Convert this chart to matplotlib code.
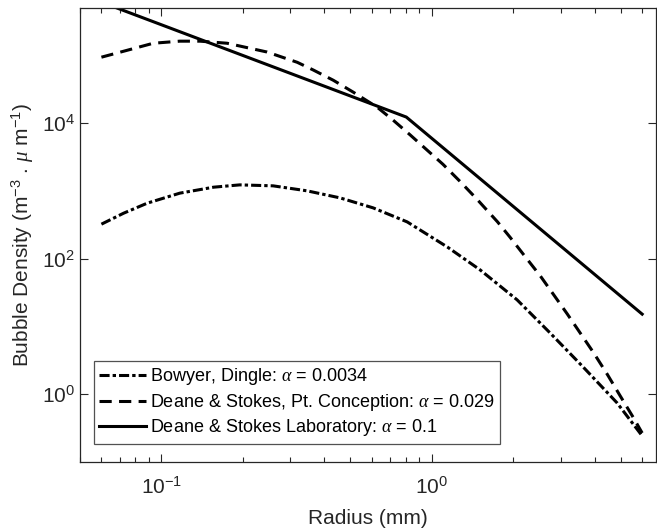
#! /usr/bin/env python3

import numpy as np
import matplotlib
matplotlib.use("Agg")
import matplotlib.pyplot as plt
from matplotlib.ticker import LogLocator, NullLocator, FixedLocator

plt.rcParams["font.family"] = ["Liberation Sans", "DejaVu Sans"]
plt.rcParams["mathtext.fontset"] = "custom"
plt.rcParams["mathtext.rm"] = "Liberation Sans"
plt.rcParams["mathtext.it"] = "Liberation Serif:italic"
plt.rcParams["mathtext.bf"] = "Liberation Sans:bold"

# (radius in mm, density in m^-3 um^-1)
bowyer_r = [0.06, 0.0724, 0.0887, 0.117, 0.156, 0.195, 0.259, 0.346, 0.458,
            0.607, 0.811, 1.141, 1.509, 2.068, 2.738, 3.627, 4.845, 6.0]
bowyer_n = [323, 468, 660, 927, 1135, 1228, 1188, 1002, 789,
            562, 349, 149, 68.4, 24.7, 8.03, 2.53, 0.745, 0.243]

conception_r = [0.06, 0.0748, 0.0933, 0.117, 0.139, 0.175, 0.246, 0.318, 0.364,
                0.432, 0.512, 0.628, 0.719, 0.832, 0.961, 1.10, 1.27, 1.47,
                1.75, 1.95, 2.25, 2.52, 2.81, 3.17, 3.54, 3.96, 4.46, 4.98,
                5.56, 6.0]
conception_n = [9.4e4, 1.19e5, 1.51e5, 1.62e5, 1.62e5, 1.51e5, 1.12e5, 7.9e4, 6.1e4,
                4.3e4, 2.87e4, 1.72e4, 1.11e4, 6.7e3, 4.0e3, 2.47e3, 1.39e3, 753,
                350, 206, 99, 55.7, 30.2, 15.3, 8.0, 4.14, 1.96, 0.94,
                0.455, 0.268]

lab_r = [0.06, 0.805, 6.0]
lab_n = [6.1e5, 1.23e4, 15.2]

labels = [r"Bowyer, Dingle: $\alpha$ = 0.0034",
          r"Deane & Stokes, Pt. Conception: $\alpha$ = 0.029",
          r"Deane & Stokes Laboratory: $\alpha$ = 0.1"]

fig = plt.figure(figsize=(6.57, 5.31), dpi=100)
ax = fig.add_axes([80/657, 1 - 462/531, 576/657, 454/531])

ax.loglog(bowyer_r, bowyer_n, color="k", lw=2.2, ls=(0, (3.3, 1.0, 1.1, 1.0)), label=labels[0])
ax.loglog(conception_r, conception_n, color="k", lw=2.2, ls=(0, (4.0, 2.4)), label=labels[1])
ax.loglog(lab_r, lab_n, color="k", lw=2.2, ls="-", label=labels[2])

ax.set_xlim(0.05, 6.75)
ax.set_ylim(0.1, 5e5)

ax.yaxis.set_major_locator(FixedLocator([1, 1e2, 1e4]))
ax.yaxis.set_minor_locator(NullLocator())
ax.xaxis.set_major_locator(FixedLocator([0.1, 1]))
ax.xaxis.set_minor_locator(LogLocator(base=10, subs=np.arange(2, 10), numticks=20))

spine_col = "#262626"
for s in ax.spines.values():
    s.set_color(spine_col)
    s.set_linewidth(0.9)
ax.tick_params(which="both", direction="in", top=True, right=True,
               colors=spine_col, labelcolor="#262626", labelsize=15, width=0.8)
ax.tick_params(which="major", length=6)
ax.tick_params(which="minor", length=3.5)
ax.tick_params(axis="x", pad=10)

ax.set_xlabel("Radius (mm)", fontsize=15, color="#262626", labelpad=8)
ax.set_ylabel(r"Bubble Density (m$^{-3}$ . $\mu$ m$^{-1}$)", fontsize=15, color="#262626", labelpad=4)

leg = ax.legend(loc="lower left", bbox_to_anchor=(0.024, 0.04), fontsize=13,
                frameon=True, fancybox=False, edgecolor=spine_col,
                handlelength=2.6, handletextpad=0.2, borderpad=0.3,
                labelspacing=0.25, borderaxespad=0)
leg.get_frame().set_linewidth(0.9)

fig.savefig("out.png", dpi=100)
